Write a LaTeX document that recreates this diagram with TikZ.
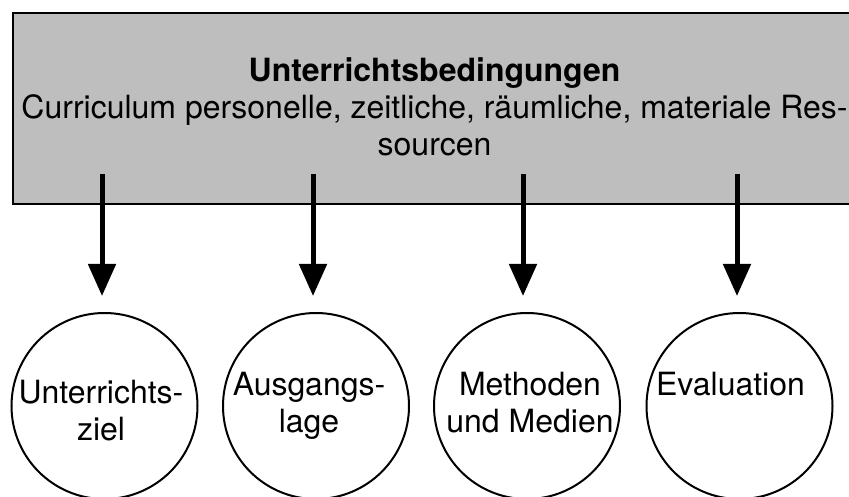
\documentclass[tikz,border=0pt]{standalone}
\usepackage{fontspec}
\setmainfont{TeX Gyre Heros}
\usetikzlibrary{arrows.meta}
\definecolor{boxgray}{RGB}{190,190,190}
\begin{document}
\begin{tikzpicture}[x=1pt,y=-1pt,
  txt/.style={font=\fontsize{32}{37}\selectfont, align=center, inner sep=0pt, anchor=base},
  circ/.style={draw, line width=2pt, circle, minimum size=186pt, inner sep=0pt},
  conn/.style={line width=5pt, -{Triangle[width=27pt,length=32pt]}}]
\useasboundingbox (0,0) rectangle (849,497);
\clip (0,0) rectangle (849,497);
\node[draw, line width=2pt, fill=boxgray, minimum width=845pt, minimum height=191pt,
      anchor=north west, inner sep=0pt] (box) at (12,12) {};
\node[txt] (hdr) at (434.5,156) {\textbf{Unterrichtsbedingungen}\\Curriculum personelle, zeitliche, räumliche, materiale Res-\\sourcen};
\node[circ] (c1) at (104.5,406) {};
\node[circ] (c2) at (316,406) {};
\node[circ] (c3) at (527,406) {};
\node[circ] (c4) at (739.5,406) {};
\node[txt] (t1) at (101,440) {Unterrichts-\\ziel};
\node[txt] (t2) at (309,432) {Ausgangs-\\lage};
\node[txt] (t3) at (530,432) {Methoden\\und Medien};
\node[txt] (t4) at (730.5,395) {Evaluation};
\coordinate (s1) at (102,174); \coordinate (e1) at (102,296);
\coordinate (s2) at (313,174); \coordinate (e2) at (313,296);
\coordinate (s3) at (523,174); \coordinate (e3) at (523,296);
\coordinate (s4) at (737,174); \coordinate (e4) at (737,296);
\draw[conn] (s1) -- (e1);
\draw[conn] (s2) -- (e2);
\draw[conn] (s3) -- (e3);
\draw[conn] (s4) -- (e4);
\end{tikzpicture}
\end{document}
